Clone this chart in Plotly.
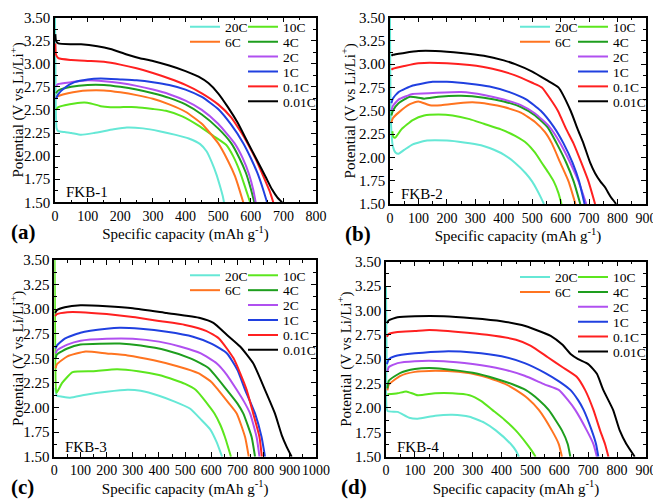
import plotly.graph_objects as go

# ---------------- data ----------------
rates = ["20C", "10C", "6C", "4C", "2C", "1C", "0.1C", "0.01C"]
colors = ["#66E8D6", "#5CE61E", "#FF7420", "#1E9E1E", "#B050F0", "#2040E0", "#FF2020", "#000000"]
panel_names = ["FKB-1", "FKB-2", "FKB-3", "FKB-4"]
panel_tags = ["(a)", "(b)", "(c)", "(d)"]
x_max = [800, 900, 1000, 900]

# FKB-1
a_20C_x = [0, 2, 5, 10, 30, 50, 80, 120, 180, 220, 270, 320, 370, 410, 445, 465, 481, 495, 507, 514, 518]
a_20C_y = [3.50, 2.60, 2.30, 2.27, 2.26, 2.25, 2.23, 2.25, 2.29, 2.31, 2.30, 2.27, 2.23, 2.19, 2.13, 2.05, 1.93, 1.80, 1.66, 1.57, 1.50]
a_10C_x = [3, 10, 30, 60, 90, 110, 140, 170, 200, 250, 300, 340, 390, 440, 485, 525, 546, 567, 585, 598]
a_10C_y = [2.50, 2.53, 2.55, 2.57, 2.58, 2.57, 2.54, 2.53, 2.53, 2.53, 2.51, 2.49, 2.43, 2.33, 2.22, 2.12, 2.00, 1.83, 1.64, 1.50]
a_6C_x = [3, 10, 40, 70, 100, 150, 200, 250, 300, 350, 400, 450, 500, 530, 552, 565, 577]
a_6C_y = [2.64, 2.65, 2.68, 2.70, 2.71, 2.71, 2.69, 2.66, 2.62, 2.56, 2.48, 2.35, 2.14, 1.95, 1.78, 1.64, 1.50]
a_4C_x = [3, 10, 50, 100, 150, 200, 250, 300, 350, 400, 450, 500, 540, 565, 585, 600, 611]
a_4C_y = [2.68, 2.71, 2.75, 2.77, 2.77, 2.75, 2.72, 2.68, 2.63, 2.56, 2.45, 2.30, 2.14, 1.98, 1.82, 1.65, 1.50]
a_2C_x = [3, 10, 50, 100, 150, 200, 250, 300, 350, 400, 450, 500, 550, 575, 595, 608, 615]
a_2C_y = [2.76, 2.78, 2.80, 2.82, 2.81, 2.79, 2.76, 2.72, 2.67, 2.60, 2.50, 2.35, 2.14, 1.98, 1.80, 1.63, 1.50]
a_1C_x = [3, 10, 30, 60, 100, 140, 200, 250, 300, 350, 400, 450, 500, 540, 577, 600, 620, 637, 650]
a_1C_y = [2.62, 2.67, 2.74, 2.80, 2.83, 2.84, 2.83, 2.82, 2.80, 2.77, 2.72, 2.64, 2.51, 2.34, 2.14, 1.98, 1.82, 1.65, 1.50]
a_01C_x = [1, 3, 10, 50, 100, 150, 200, 250, 300, 350, 400, 450, 500, 540, 570, 590, 615, 640, 658, 669]
a_01C_y = [3.22, 3.10, 3.06, 3.04, 3.03, 3.02, 2.99, 2.95, 2.90, 2.84, 2.77, 2.68, 2.56, 2.42, 2.26, 2.14, 1.97, 1.77, 1.62, 1.50]
a_001C_x = [1, 3, 10, 50, 80, 130, 170, 220, 260, 300, 350, 400, 440, 470, 500, 530, 560, 592, 620, 645, 665, 682, 696]
a_001C_y = [3.32, 3.25, 3.22, 3.21, 3.21, 3.19, 3.16, 3.10, 3.06, 3.03, 2.98, 2.92, 2.86, 2.79, 2.68, 2.53, 2.36, 2.14, 1.95, 1.78, 1.64, 1.55, 1.50]

# FKB-2
b_20C_x = [0, 3, 10, 20, 30, 50, 80, 130, 200, 260, 320, 350, 400, 440, 477, 500, 517, 532, 541]
b_20C_y = [3.50, 2.40, 2.12, 2.05, 2.04, 2.08, 2.14, 2.18, 2.18, 2.16, 2.13, 2.10, 2.03, 1.94, 1.83, 1.74, 1.65, 1.56, 1.50]
b_10C_x = [8, 12, 18, 40, 80, 120, 170, 220, 280, 330, 390, 440, 481, 510, 534, 556, 576, 592, 603]
b_10C_y = [2.28, 2.22, 2.21, 2.30, 2.40, 2.45, 2.46, 2.45, 2.41, 2.36, 2.30, 2.23, 2.15, 2.05, 1.94, 1.84, 1.74, 1.62, 1.50]
b_6C_x = [5, 10, 30, 70, 100, 140, 180, 240, 290, 350, 400, 460, 510, 545, 569, 599, 628, 652]
b_6C_y = [2.38, 2.42, 2.48, 2.57, 2.60, 2.56, 2.56, 2.58, 2.59, 2.57, 2.54, 2.48, 2.38, 2.27, 2.15, 1.94, 1.74, 1.50]
b_4C_x = [5, 10, 30, 70, 120, 170, 250, 330, 400, 460, 510, 555, 586, 620, 646, 669]
b_4C_y = [2.45, 2.50, 2.58, 2.65, 2.63, 2.65, 2.66, 2.64, 2.60, 2.54, 2.45, 2.32, 2.15, 1.94, 1.74, 1.50]
b_2C_x = [5, 10, 30, 80, 150, 250, 330, 400, 460, 510, 560, 599, 634, 663, 690]
b_2C_y = [2.50, 2.55, 2.62, 2.68, 2.69, 2.70, 2.67, 2.62, 2.56, 2.47, 2.33, 2.15, 1.94, 1.74, 1.50]
b_1C_x = [5, 10, 30, 80, 150, 200, 280, 350, 420, 480, 530, 575, 610, 642, 665, 684]
b_1C_y = [2.58, 2.63, 2.70, 2.77, 2.81, 2.81, 2.79, 2.76, 2.70, 2.62, 2.50, 2.33, 2.15, 1.94, 1.74, 1.50]
b_01C_x = [5, 10, 50, 100, 200, 280, 360, 440, 500, 534, 565, 590, 620, 645, 673, 698, 721]
b_01C_y = [2.94, 2.95, 2.98, 3.01, 3.01, 2.99, 2.95, 2.88, 2.80, 2.75, 2.62, 2.50, 2.30, 2.15, 1.94, 1.74, 1.50]
b_001C_x = [5, 10, 50, 100, 160, 250, 330, 400, 440, 500, 550, 592, 635, 660, 680, 704, 721, 740, 756, 775, 795]
b_001C_y = [3.09, 3.10, 3.12, 3.14, 3.14, 3.12, 3.09, 3.04, 3.00, 2.92, 2.83, 2.75, 2.50, 2.30, 2.15, 1.94, 1.83, 1.74, 1.68, 1.58, 1.50]

# FKB-3
c_20C_x = [3, 10, 30, 60, 120, 200, 280, 330, 400, 460, 518, 560, 595, 620, 641]
c_20C_y = [2.20, 2.12, 2.11, 2.10, 2.13, 2.16, 2.18, 2.17, 2.12, 2.06, 1.99, 1.88, 1.78, 1.65, 1.50]
c_10C_x = [1, 4, 8, 30, 70, 150, 240, 320, 400, 460, 500, 540, 590, 612, 635, 652, 675]
c_10C_y = [3.50, 2.40, 2.15, 2.25, 2.36, 2.37, 2.39, 2.37, 2.33, 2.28, 2.24, 2.18, 2.02, 1.94, 1.82, 1.70, 1.50]
c_6C_x = [5, 10, 50, 120, 200, 280, 380, 470, 550, 600, 626, 665, 697, 729, 743]
c_6C_y = [2.40, 2.44, 2.52, 2.57, 2.55, 2.53, 2.48, 2.42, 2.35, 2.26, 2.18, 2.05, 1.94, 1.70, 1.50]
c_4C_x = [5, 10, 50, 100, 250, 330, 430, 520, 590, 659, 700, 722, 754, 767]
c_4C_y = [2.50, 2.54, 2.60, 2.64, 2.65, 2.63, 2.58, 2.50, 2.40, 2.18, 2.04, 1.94, 1.70, 1.50]
c_2C_x = [5, 10, 50, 100, 200, 300, 400, 480, 560, 620, 660, 697, 725, 748, 773, 784]
c_2C_y = [2.55, 2.58, 2.64, 2.68, 2.70, 2.70, 2.67, 2.62, 2.55, 2.45, 2.33, 2.18, 2.06, 1.94, 1.70, 1.50]
c_1C_x = [5, 10, 40, 100, 200, 250, 330, 430, 530, 600, 660, 700, 729, 750, 767, 792, 805]
c_1C_y = [2.60, 2.63, 2.70, 2.76, 2.80, 2.81, 2.80, 2.77, 2.72, 2.65, 2.55, 2.38, 2.18, 2.05, 1.94, 1.70, 1.50]
c_01C_x = [3, 10, 50, 100, 200, 300, 400, 500, 580, 630, 685, 710, 735, 760, 784, 793]
c_01C_y = [2.93, 2.95, 2.97, 2.97, 2.95, 2.92, 2.88, 2.84, 2.78, 2.70, 2.50, 2.35, 2.18, 1.94, 1.70, 1.50]
c_001C_x = [3, 10, 40, 100, 200, 300, 430, 557, 608, 659, 710, 760, 805, 843, 869, 888, 907]
c_001C_y = [2.96, 2.99, 3.02, 3.04, 3.03, 3.01, 2.96, 2.91, 2.86, 2.74, 2.62, 2.45, 2.18, 1.94, 1.72, 1.60, 1.50]

# FKB-4
d_20C_x = [0, 2, 5, 40, 80, 110, 170, 230, 289, 340, 380, 432, 450, 460]
d_20C_y = [3.25, 2.50, 1.97, 1.96, 1.90, 1.89, 1.92, 1.93, 1.91, 1.85, 1.77, 1.63, 1.56, 1.50]
d_10C_x = [5, 40, 70, 110, 170, 230, 289, 330, 368, 410, 449, 488, 505, 518]
d_10C_y = [2.14, 2.15, 2.17, 2.13, 2.15, 2.15, 2.13, 2.07, 1.98, 1.88, 1.77, 1.63, 1.56, 1.50]
d_6C_x = [5, 10, 50, 100, 150, 250, 330, 410, 449, 490, 529, 574, 598, 609]
d_6C_y = [2.18, 2.24, 2.33, 2.37, 2.38, 2.37, 2.33, 2.25, 2.185, 2.10, 1.98, 1.77, 1.63, 1.50]
d_4C_x = [5, 10, 50, 100, 150, 200, 300, 380, 440, 483, 530, 563, 609, 629, 638]
d_4C_y = [2.20, 2.28, 2.36, 2.40, 2.41, 2.40, 2.36, 2.30, 2.24, 2.185, 2.08, 1.98, 1.77, 1.63, 1.50]
d_2C_x = [5, 10, 40, 100, 200, 300, 400, 480, 550, 598, 630, 655, 695, 718, 730]
d_2C_y = [2.38, 2.42, 2.46, 2.48, 2.48, 2.45, 2.40, 2.33, 2.24, 2.185, 2.08, 1.98, 1.77, 1.63, 1.50]
d_1C_x = [3, 10, 30, 100, 200, 300, 400, 480, 550, 600, 638, 665, 684, 712, 727, 735]
d_1C_y = [2.45, 2.50, 2.53, 2.56, 2.58, 2.57, 2.53, 2.46, 2.36, 2.27, 2.185, 2.08, 1.98, 1.77, 1.63, 1.50]
d_01C_x = [3, 10, 40, 100, 150, 250, 350, 450, 500, 560, 610, 660, 689, 718, 741, 758, 770]
d_01C_y = [2.73, 2.76, 2.78, 2.79, 2.80, 2.78, 2.75, 2.70, 2.64, 2.52, 2.42, 2.32, 2.185, 1.98, 1.77, 1.63, 1.50]
d_001C_x = [3, 10, 40, 100, 200, 300, 400, 470, 520, 570, 610, 640, 665, 700, 730, 752, 786, 809, 832, 861]
d_001C_y = [2.87, 2.90, 2.93, 2.94, 2.94, 2.92, 2.89, 2.85, 2.80, 2.74, 2.65, 2.55, 2.50, 2.45, 2.35, 2.185, 1.98, 1.77, 1.63, 1.50]

panels_x = [
    [a_20C_x, a_10C_x, a_6C_x, a_4C_x, a_2C_x, a_1C_x, a_01C_x, a_001C_x],
    [b_20C_x, b_10C_x, b_6C_x, b_4C_x, b_2C_x, b_1C_x, b_01C_x, b_001C_x],
    [c_20C_x, c_10C_x, c_6C_x, c_4C_x, c_2C_x, c_1C_x, c_01C_x, c_001C_x],
    [d_20C_x, d_10C_x, d_6C_x, d_4C_x, d_2C_x, d_1C_x, d_01C_x, d_001C_x],
]
panels_y = [
    [a_20C_y, a_10C_y, a_6C_y, a_4C_y, a_2C_y, a_1C_y, a_01C_y, a_001C_y],
    [b_20C_y, b_10C_y, b_6C_y, b_4C_y, b_2C_y, b_1C_y, b_01C_y, b_001C_y],
    [c_20C_y, c_10C_y, c_6C_y, c_4C_y, c_2C_y, c_1C_y, c_01C_y, c_001C_y],
    [d_20C_y, d_10C_y, d_6C_y, d_4C_y, d_2C_y, d_1C_y, d_01C_y, d_001C_y],
]

# ---------------- layout geometry ----------------
# page offset of the plot div inside the browser window (body margin)
OFF = 8
W, H = 661 - OFF, 499 - OFF


def px(sx):
    return min(1.0, max(0.0, (sx - OFF) / W))


def py(sy):
    return min(1.0, max(0.0, 1 - (sy - OFF) / H))


# left, right, top, bottom of each plot frame, in window pixels
frames = [(55, 316, 17.5, 202.3), (390, 646, 17.5, 204), (54.3, 316, 260, 456.7), (386, 646, 261.7, 456.7)]
legend_tops = [11.5, 11.5, 260, 261.7]
# legend slot: (column, row) for each rate
slots = [(0, 0), (1, 0), (0, 1), (1, 1), (1, 2), (1, 3), (1, 4), (1, 5)]
col_offsets = [126, 68]  # legend line start measured from right frame edge
row_gap = 14.9
FONT = "Liberation Serif"

fig = go.Figure()
layout = dict(
    width=W, height=H, margin=dict(l=0, r=0, t=0, b=0, autoexpand=False),
    paper_bgcolor="white", plot_bgcolor="white", showlegend=True,
    font=dict(family=FONT, size=14, color="black"),
)

annotations = []
leg_id = 0
for p in range(4):
    L, R, T, B = frames[p]
    sfx = "" if p == 0 else str(p + 1)
    xa, ya = "x" + sfx, "y" + sfx
    axis_common = dict(
        showline=True, linecolor="black", linewidth=1.5, mirror="ticks",
        ticks="inside", ticklen=5, tickwidth=1.3, tickcolor="black",
        showgrid=False, zeroline=False, automargin=False, ticklabeloverflow="allow",
    )
    layout["xaxis" + sfx] = dict(
        axis_common, domain=[px(L), px(R)], anchor=ya, range=[0, x_max[p]],
        dtick=100, tick0=0, tickangle=0, tickfont=dict(family=FONT, size=14, color="black"),
        minor=dict(ticks="inside", ticklen=3, tickwidth=1.2, dtick=50, tickcolor="black"),
        title=dict(text="Specific capacity (mAh g<sup>-1</sup>)", font=dict(family=FONT, size=15), standoff=4),
    )
    layout["yaxis" + sfx] = dict(
        axis_common, domain=[py(B), py(T)], anchor=xa, range=[1.5, 3.5],
        dtick=0.25, tick0=1.5, tickformat=".2f", tickfont=dict(family=FONT, size=15, color="black"),
        minor=dict(ticks="inside", ticklen=3, tickwidth=1.2, dtick=0.125, tickcolor="black"),
        title=dict(text="Potential (V vs Li/Li<sup>+</sup>)", font=dict(family=FONT, size=15), standoff=0),
    )
    for i, rate in enumerate(rates):
        leg_id += 1
        lname = "legend" if leg_id == 1 else "legend" + str(leg_id)
        fig.add_trace(go.Scatter(
            x=panels_x[p][i], y=panels_y[p][i], mode="lines", name=rate,
            line=dict(color=colors[i], width=2, shape="spline", smoothing=0.5),
            xaxis=xa, yaxis=ya, legend=lname, showlegend=True,
        ))
        col, row = slots[i]
        lx = R - col_offsets[col] - 5
        ly = legend_tops[p] + 15.5 + row * row_gap
        layout[lname] = dict(
            x=px(lx), y=py(ly), xanchor="left", yanchor="middle",
            bgcolor="rgba(0,0,0,0)", borderwidth=0,
            font=dict(family=FONT, size=13.5, color="black"),
        )
    annotations.append(dict(
        text=panel_names[p], xref=xa + " domain", yref=ya + " domain",
        x=9 / (R - L), y=10 / (B - T), xanchor="left", yanchor="middle",
        showarrow=False, font=dict(family=FONT, size=15, color="black"),
    ))
    annotations.append(dict(
        text="<b>" + panel_tags[p] + "</b>", xref="paper", yref="paper",
        x=px(L - 32), y=py(B + 30), xanchor="center", yanchor="middle",
        showarrow=False, font=dict(family=FONT, size=21, color="black"),
    ))

layout["annotations"] = annotations
fig.update_layout(**layout)
fig.write_html("out.html")
